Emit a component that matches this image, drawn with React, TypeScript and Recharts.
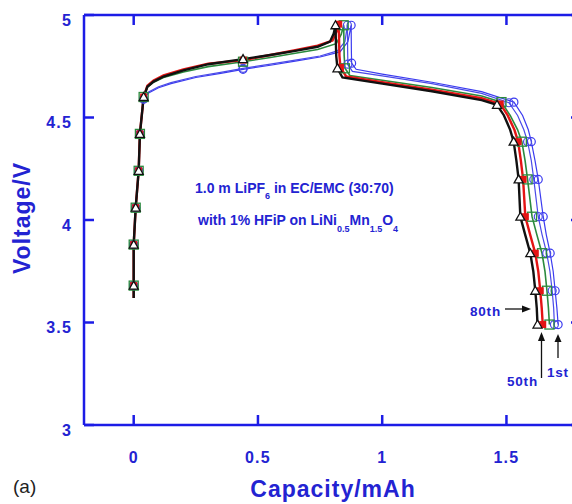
import React from "react";
import { LineChart, Line, XAxis, YAxis } from "recharts";

// cycles: 1st (blue), 10th (blue), 20th (green), 50th (red), 80th (black)
const blackCap = [0, 0, 0, 0.008, 0.02, 0.025, 0.04, 0.055, 0.08, 0.12, 0.2, 0.3, 0.44, 0.55, 0.65, 0.74, 0.79, 0.805, 0.812, 0.815, 0.82, 0.84, 1.0, 1.2, 1.4, 1.462, 1.49, 1.515, 1.529, 1.54, 1.549, 1.556, 1.575, 1.596, 1.608, 1.616, 1.622, 1.625];
const blackVolt = [3.62, 3.68, 3.88, 4.06, 4.24, 4.42, 4.6, 4.65, 4.675, 4.7, 4.73, 4.76, 4.785, 4.805, 4.825, 4.845, 4.87, 4.91, 4.95, 4.8, 4.74, 4.695, 4.665, 4.628, 4.585, 4.562, 4.51, 4.44, 4.382, 4.29, 4.198, 4.016, 3.93, 3.838, 3.75, 3.655, 3.57, 3.49];

const redCap = [0, 0, 0, 0.008, 0.02, 0.025, 0.04, 0.055, 0.08, 0.12, 0.2, 0.3, 0.441, 0.55, 0.65, 0.74, 0.8, 0.815, 0.825, 0.828, 0.832, 0.855, 1.0, 1.2, 1.4, 1.475, 1.505, 1.532, 1.547, 1.558, 1.567, 1.576, 1.595, 1.616, 1.628, 1.636, 1.642, 1.646];
const redVolt = [3.62, 3.68, 3.88, 4.06, 4.24, 4.42, 4.6, 4.655, 4.68, 4.705, 4.735, 4.762, 4.78, 4.805, 4.828, 4.85, 4.875, 4.915, 4.955, 4.8, 4.745, 4.7, 4.672, 4.636, 4.594, 4.566, 4.51, 4.44, 4.382, 4.29, 4.198, 4.016, 3.93, 3.838, 3.75, 3.655, 3.57, 3.49];

const greenCap = [0, 0, 0, 0.008, 0.02, 0.025, 0.04, 0.055, 0.08, 0.12, 0.2, 0.3, 0.44, 0.55, 0.65, 0.74, 0.815, 0.835, 0.845, 0.847, 0.85, 0.87, 1.0, 1.2, 1.4, 1.48, 1.515, 1.545, 1.562, 1.575, 1.585, 1.603, 1.622, 1.643, 1.655, 1.663, 1.669, 1.673];
const greenVolt = [3.62, 3.68, 3.88, 4.06, 4.24, 4.42, 4.6, 4.648, 4.672, 4.695, 4.722, 4.748, 4.772, 4.793, 4.813, 4.832, 4.86, 4.905, 4.95, 4.8, 4.74, 4.705, 4.682, 4.646, 4.605, 4.575, 4.51, 4.44, 4.382, 4.29, 4.198, 4.016, 3.93, 3.838, 3.75, 3.655, 3.57, 3.49];

const blueBCap = [0, 0, 0, 0.008, 0.02, 0.025, 0.04, 0.06, 0.1, 0.15, 0.25, 0.35, 0.44, 0.55, 0.65, 0.75, 0.82, 0.85, 0.86, 0.861, 0.862, 0.88, 1.0, 1.2, 1.4, 1.51, 1.545, 1.57, 1.585, 1.6, 1.61, 1.628, 1.643, 1.662, 1.675, 1.684, 1.69, 1.693];
const blueBVolt = [3.62, 3.68, 3.88, 4.06, 4.24, 4.42, 4.59, 4.625, 4.65, 4.67, 4.7, 4.72, 4.74, 4.76, 4.78, 4.8, 4.825, 4.87, 4.95, 4.82, 4.76, 4.725, 4.703, 4.665, 4.618, 4.572, 4.51, 4.44, 4.382, 4.29, 4.198, 4.016, 3.93, 3.838, 3.75, 3.655, 3.57, 3.49];

const blueACap = [0, 0, 0, 0.008, 0.02, 0.025, 0.04, 0.06, 0.1, 0.15, 0.25, 0.35, 0.44, 0.55, 0.65, 0.75, 0.83, 0.862, 0.875, 0.876, 0.877, 0.895, 1.0, 1.2, 1.4, 1.53, 1.565, 1.588, 1.6, 1.615, 1.628, 1.648, 1.66, 1.676, 1.688, 1.696, 1.703, 1.708];
const blueAVolt = [3.62, 3.68, 3.88, 4.06, 4.24, 4.42, 4.59, 4.62, 4.645, 4.665, 4.695, 4.715, 4.735, 4.755, 4.775, 4.795, 4.82, 4.87, 4.95, 4.82, 4.765, 4.735, 4.712, 4.672, 4.626, 4.575, 4.51, 4.44, 4.382, 4.29, 4.198, 4.016, 3.93, 3.838, 3.75, 3.655, 3.57, 3.49];

// points that carry a symbol
const markIdx = [1, 2, 3, 4, 5, 6, 12, 18, 20, 25, 28, 30, 31, 33, 35, 37];

const xTicks = [0, 0.5, 1, 1.5];
const yTicks = [3, 3.5, 4, 4.5, 5];
const X_MIN = -0.2;
const X_MAX = 1.8;
const Y_MIN = 3;
const Y_MAX = 5;

const AXIS = "#1c1ce6";
const TXT = "#2323d2";
const FONT = "'Liberation Sans', Arial, sans-serif";

// plot box (matches chart size and margins below)
const PLOT = { left: 84, right: 581, top: 15, bottom: 425 };
const sx = (v: number) => PLOT.left + ((v - X_MIN) / (X_MAX - X_MIN)) * (PLOT.right - PLOT.left);
const sy = (v: number) => PLOT.bottom - ((v - Y_MIN) / (Y_MAX - Y_MIN)) * (PLOT.bottom - PLOT.top);
const TICK_LEN = 10;

const toRows = (cap: number[], volt: number[]) => cap.map((c, i) => ({ c, v: volt[i] }));

const makeDot = (shape: string, color: string) => (p: any) => {
    const { cx, cy, index } = p;
    if (cx == null || cy == null || !markIdx.includes(index)) return <g key={`e${index}`} />;
    if (shape === "tri")
        return (
            <polygon key={`m${index}`} points={`${cx},${cy - 4.5} ${cx + 4.5},${cy + 3.5} ${cx - 4.5},${cy + 3.5}`}
                fill="#fff" stroke={color} strokeWidth={1.3} />
        );
    if (shape === "fill")
        return <rect key={`m${index}`} x={cx - 3.5} y={cy - 3.5} width={7} height={7} fill={color} />;
    if (shape === "sq")
        return <rect key={`m${index}`} x={cx - 4.5} y={cy - 4.5} width={9} height={9} fill="none" stroke={color} strokeWidth={1.3} />;
    return <circle key={`m${index}`} cx={cx} cy={cy} r={4} fill="none" stroke={color} strokeWidth={1.2} />;
};

const labelStyle = { fill: TXT, fontSize: 16, fontWeight: 700, fontFamily: FONT, letterSpacing: 1.2 };
const axisLine = { stroke: AXIS, strokeWidth: 2.5 };

export default function App() {
    const series = [
        { key: "1st", rows: toRows(blueACap, blueAVolt), color: "#3b3bf0", w: 1.2, shape: "circ" },
        { key: "10th", rows: toRows(blueBCap, blueBVolt), color: "#4a4ae8", w: 1.2, shape: "circ" },
        { key: "20th", rows: toRows(greenCap, greenVolt), color: "#2b8a3e", w: 1.6, shape: "sq" },
        { key: "50th", rows: toRows(redCap, redVolt), color: "#e41414", w: 2.4, shape: "fill" },
        { key: "80th", rows: toRows(blackCap, blackVolt), color: "#111111", w: 2.4, shape: "tri" },
    ];

    return (
        <div style={{ position: "absolute", left: 0, top: 0, width: 572, height: 504, overflow: "hidden", background: "#fff" }}>
            <LineChart width={590} height={504} margin={{ top: 5, right: 9, bottom: 19, left: 24 }}>
                <XAxis
                    dataKey="c"
                    type="number"
                    domain={[X_MIN, X_MAX]}
                    ticks={xTicks}
                    allowDataOverflow
                    height={60}
                    tickSize={0}
                    tickMargin={27}
                    axisLine={axisLine}
                    tickLine={false}
                    tick={labelStyle}
                />
                <XAxis
                    xAxisId="top"
                    orientation="top"
                    type="number"
                    domain={[X_MIN, X_MAX]}
                    ticks={xTicks}
                    allowDataOverflow
                    height={10}
                    axisLine={axisLine}
                    tickLine={false}
                    tick={false}
                />
                <YAxis
                    type="number"
                    domain={[Y_MIN, Y_MAX]}
                    ticks={yTicks}
                    allowDataOverflow
                    width={60}
                    tickSize={0}
                    tickMargin={12}
                    axisLine={axisLine}
                    tickLine={false}
                    tick={{ ...labelStyle, dy: 5 }}
                />
                {series.map((s) => (
                    <Line
                        key={s.key}
                        data={s.rows}
                        dataKey="v"
                        type="linear"
                        stroke={s.color}
                        strokeWidth={s.w}
                        dot={makeDot(s.shape, s.color)}
                        activeDot={false}
                        isAnimationActive={false}
                    />
                ))}
            </LineChart>

            <svg width={572} height={504} style={{ position: "absolute", left: 0, top: 0, pointerEvents: "none" }}>
                {/* inward tick marks on all four sides */}
                <g stroke={AXIS} strokeWidth={2.5}>
                    {yTicks.map((t) => (
                        <line key={`l${t}`} x1={PLOT.left} x2={PLOT.left + TICK_LEN} y1={sy(t)} y2={sy(t)} />
                    ))}
                    {yTicks.map((t) => (
                        <line key={`r${t}`} x1={PLOT.right} x2={PLOT.right - TICK_LEN} y1={sy(t)} y2={sy(t)} />
                    ))}
                    {xTicks.map((t) => (
                        <line key={`b${t}`} x1={sx(t)} x2={sx(t)} y1={PLOT.bottom} y2={PLOT.bottom - TICK_LEN} />
                    ))}
                    {xTicks.map((t) => (
                        <line key={`t${t}`} x1={sx(t)} x2={sx(t)} y1={PLOT.top} y2={PLOT.top + TICK_LEN} />
                    ))}
                </g>

                <text x={333} y={496.5} textAnchor="middle" fill={TXT} fontFamily={FONT} fontWeight={700} fontSize={23} letterSpacing={1}>
                    Capacity/mAh
                </text>
                <text transform="translate(29.5,218) rotate(-90)" textAnchor="middle" fill={TXT} fontFamily={FONT} fontWeight={700} fontSize={23} letterSpacing={1}>
                    Voltage/V
                </text>
                <text x={13} y={493} fill="#222" fontFamily={FONT} fontSize={19}>(a)</text>

                <g fontFamily={FONT} fontWeight={700} fontSize={13.5} fill={TXT} letterSpacing={0.8}>
                    <text x={470} y={316}>80th</text>
                    <text x={507} y={386}>50th</text>
                    <text x={547} y={377}>1st</text>
                </g>
                <g stroke="#111" strokeWidth={1.3} fill="#111">
                    <line x1={505} y1={309} x2={523} y2={309} />
                    <polygon points="522,305.5 531,309 522,312.5" stroke="none" />
                    <line x1={541.5} y1={378} x2={541.5} y2={341} />
                    <polygon points="538,341 541.5,332 545,341" stroke="none" />
                    <line x1={558} y1={358} x2={558} y2={342} />
                    <polygon points="554.5,342 558,334 561.5,342" stroke="none" />
                </g>
            </svg>

            <div style={{ position: "absolute", left: 195, top: 181, fontFamily: FONT, fontWeight: 700, fontSize: 14, lineHeight: "14px", color: TXT, whiteSpace: "nowrap" }}>
                1.0 m LiPF<span style={{ fontSize: 9, position: "relative", top: 6 }}>6</span> in EC/EMC (30:70)
            </div>
            <div style={{ position: "absolute", left: 198, top: 213, fontFamily: FONT, fontWeight: 700, fontSize: 14, lineHeight: "14px", color: TXT, whiteSpace: "nowrap" }}>
                with 1% HFiP on LiNi<span style={{ fontSize: 9, position: "relative", top: 7 }}>0.5</span>Mn<span style={{ fontSize: 9, position: "relative", top: 7 }}>1.5</span>O<span style={{ fontSize: 9, position: "relative", top: 7 }}>4</span>
            </div>
        </div>
    );
}
